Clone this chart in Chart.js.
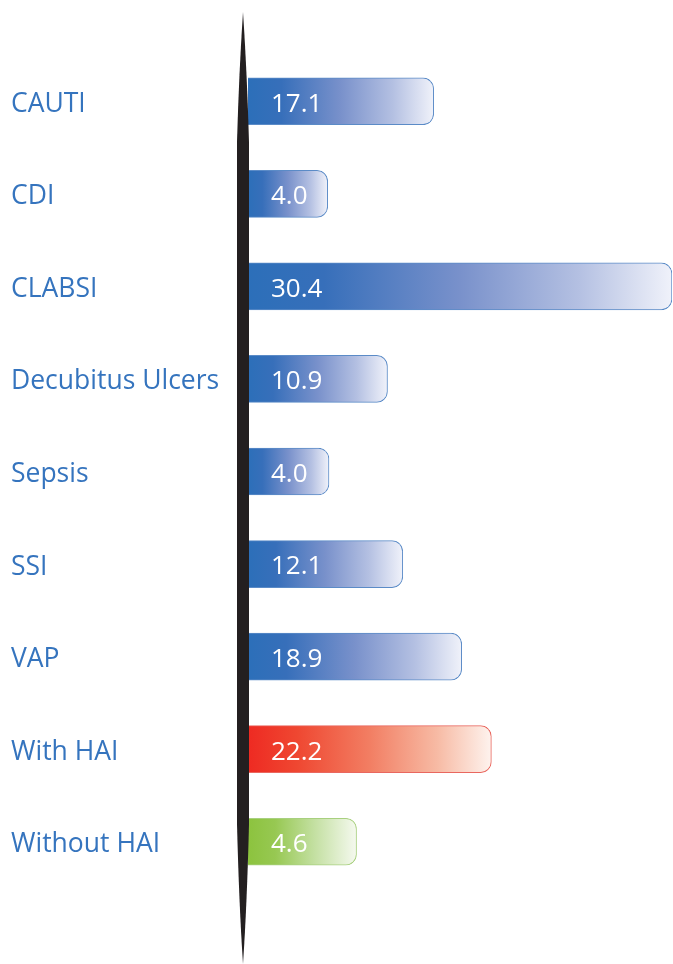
<!DOCTYPE html>
<html>
<head>
<meta charset="utf-8">
<script src="https://cdn.jsdelivr.net/npm/chart.js@4"></script>
<style>
    body { margin: 0; background: #fff; }
    #wrap { width: 673px; height: 964px; }
</style>
</head>
<body>
<div id="wrap"><canvas id="myChart" width="673" height="964"></canvas></div>
<script>

const categories = ['CAUTI', 'CDI', 'CLABSI', 'Decubitus Ulcers', 'Sepsis', 'SSI', 'VAP', 'With HAI', 'Without HAI'];

// numbers printed inside the bars
const valueLabels = ['17.1', '4.0', '30.4', '10.9', '4.0', '12.1', '18.9', '22.2', '4.6'];

// the picture does not draw bars to scale, so lengths are read off it
// as a percent of the longest bar (CLABSI)
const barLengths = [43.8, 18.8, 100, 32.9, 19.1, 36.5, 50.4, 57.4, 25.6];

// which colour family each bar uses
const barGroups = ['blue', 'blue', 'blue', 'blue', 'blue', 'blue', 'blue', 'red', 'green'];

const palette = {
    blue: {
        border: '#5B8BC7',
        stops: [[0, '#2C6FB9'], [0.18, '#376FBA'], [0.5, '#7991CB'], [0.78, '#B4C0E2'], [1, '#F0F2FA']]
    },
    red: {
        border: '#E9675F',
        stops: [[0, '#EE2A22'], [0.2, '#EF4731'], [0.5, '#F27E63'], [0.78, '#F7BBA5'], [1, '#FEF3EE']]
    },
    green: {
        border: '#A8D07F',
        stops: [[0, '#8CC33E'], [0.25, '#97C852'], [0.6, '#C2DF9F'], [1, '#F5F9EF']]
    }
};

const labelFont = { family: 'Open Sans', size: 26.5 };
const valueFont = { family: 'Open Sans', size: 26 };

const barFill = (context) => {
    const chart = context.chart;
    const group = palette[barGroups[context.dataIndex]];
    if (!chart.chartArea) {
        return group.stops[0][1];
    }
    const x0 = chart.chartArea.left;
    const x1 = chart.scales.x.getPixelForValue(context.raw);
    const g = chart.ctx.createLinearGradient(x0, 0, x1, 0);
    group.stops.forEach(s => g.addColorStop(s[0], s[1]));
    return g;
};

// black spindle that acts as the axis line, then the values on top
const spindle = {
    id: 'spindle',
    afterDatasetsDraw(chart) {
        const ctx = chart.ctx;
        const cx = 243;
        const top = 12, bottom = 964;
        ctx.save();
        ctx.fillStyle = '#231F20';
        ctx.beginPath();
        ctx.moveTo(cx, top);
        ctx.quadraticCurveTo(cx + 4, top + 60, cx + 6, top + 130);
        ctx.lineTo(cx + 6, bottom - 140);
        ctx.quadraticCurveTo(cx + 4, bottom - 60, cx, bottom);
        ctx.quadraticCurveTo(cx - 4, bottom - 60, cx - 6, bottom - 140);
        ctx.lineTo(cx - 6, top + 130);
        ctx.quadraticCurveTo(cx - 4, top + 60, cx, top);
        ctx.closePath();
        ctx.fill();

        ctx.fillStyle = '#ffffff';
        ctx.font = valueFont.size + 'px "' + valueFont.family + '"';
        ctx.textAlign = 'left';
        ctx.textBaseline = 'middle';
        const meta = chart.getDatasetMeta(0);
        meta.data.forEach((bar, i) => {
            ctx.fillText(valueLabels[i], chart.chartArea.left + 23, bar.y + 3);
        });
        ctx.restore();
    }
};

const data = {
    labels: categories,
    datasets: [{
        data: barLengths,
        backgroundColor: barFill,
        borderColor: barGroups.map(g => palette[g].border),
        borderWidth: 1,
        borderSkipped: 'start',
        borderRadius: 11,
        barThickness: 47
    }]
};

const config = {
    type: 'bar',
    data,
    options: {
        indexAxis: 'y',
        responsive: false,
        animation: false,
        layout: {
            padding: { top: 55, bottom: 76, left: 11, right: 1 }
        },
        scales: {
            x: {
                min: 0,
                max: 100,
                display: false,
                grid: { display: false }
            },
            y: {
                grid: { display: false },
                border: { display: false },
                afterFit: (scale) => { scale.width = 237; },
                ticks: {
                    crossAlign: 'far',
                    color: '#3574BE',
                    font: labelFont,
                    padding: 0,
                    labelOffset: 3
                }
            }
        },
        plugins: {
            legend: { display: false },
            tooltip: { enabled: false }
        }
    },
    plugins: [spindle]
};

const myChart = new Chart(
    document.getElementById('myChart').getContext('2d'),
    config
);
</script>
</body>
</html>
